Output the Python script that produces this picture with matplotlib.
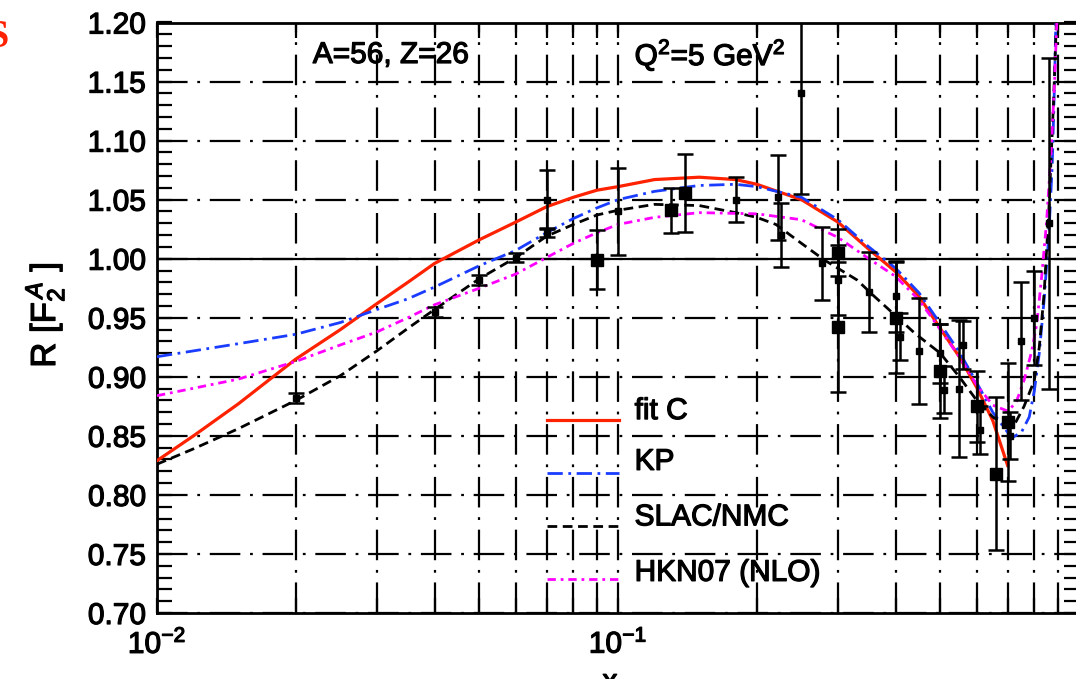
import numpy as np
import matplotlib
matplotlib.use("Agg")
import matplotlib.pyplot as plt
import matplotlib.patheffects as pe

plt.rcParams['font.family'] = ['Liberation Sans', 'DejaVu Sans']
plt.rcParams['mathtext.fontset'] = 'custom'
plt.rcParams['mathtext.rm'] = 'Liberation Sans'
plt.rcParams['mathtext.it'] = 'Liberation Sans:italic'
plt.rcParams['mathtext.bf'] = 'Liberation Sans:bold'
plt.rcParams['lines.scale_dashes'] = False

# ---- curves: nuclear ratio R[F2A] vs x for Fe (A=56) ----
fitc_x = [0.01, 0.012, 0.015, 0.02, 0.025, 0.03, 0.035, 0.04, 0.05, 0.06, 0.07,
          0.08, 0.09, 0.1, 0.12, 0.15, 0.18, 0.2, 0.25, 0.3, 0.35, 0.4, 0.45,
          0.5, 0.55, 0.6, 0.65, 0.7]
fitc_y = [0.829, 0.850, 0.877, 0.915, 0.940, 0.962, 0.980, 0.996, 1.016, 1.031,
          1.044, 1.052, 1.058, 1.061, 1.067, 1.069, 1.067, 1.063, 1.050, 1.031,
          1.008, 0.989, 0.968, 0.941, 0.917, 0.891, 0.863, 0.825]

kp_x = [0.01, 0.015, 0.02, 0.025, 0.03, 0.035, 0.04, 0.05, 0.06, 0.07, 0.08,
        0.09, 0.1, 0.12, 0.15, 0.18, 0.2, 0.25, 0.3, 0.35, 0.4, 0.45, 0.5,
        0.55, 0.6, 0.65, 0.7, 0.72, 0.75, 0.78, 0.8, 0.82, 0.84, 0.86, 0.875,
        0.885, 0.892]
kp_y = [0.917, 0.928, 0.936, 0.946, 0.957, 0.966, 0.976, 0.994, 1.007, 1.022,
        1.034, 1.043, 1.050, 1.057, 1.062, 1.063, 1.061, 1.052, 1.033, 1.010,
        0.992, 0.971, 0.945, 0.921, 0.895, 0.870, 0.853, 0.849, 0.853, 0.866,
        0.888, 0.920, 0.965, 1.020, 1.080, 1.150, 1.210]

slac_x = [0.01, 0.012, 0.015, 0.02, 0.025, 0.03, 0.035, 0.04, 0.05, 0.06, 0.07,
          0.08, 0.09, 0.1, 0.12, 0.15, 0.18, 0.2, 0.22, 0.25, 0.28, 0.33, 0.36,
          0.41, 0.44, 0.5, 0.55, 0.6, 0.65, 0.7, 0.73, 0.76, 0.8, 0.82, 0.84,
          0.86, 0.88, 0.895]
slac_y = [0.826, 0.839, 0.856, 0.880, 0.901, 0.922, 0.941, 0.957, 0.983, 1.001,
          1.019, 1.029, 1.037, 1.041, 1.046, 1.045, 1.039, 1.035, 1.029, 1.013,
          0.999, 0.982, 0.968, 0.948, 0.937, 0.920, 0.900, 0.880, 0.866, 0.858,
          0.862, 0.875, 0.897, 0.925, 0.970, 1.040, 1.130, 1.210]

hkn_x = [0.01, 0.015, 0.02, 0.025, 0.03, 0.035, 0.04, 0.05, 0.06, 0.07, 0.08,
         0.09, 0.1, 0.12, 0.15, 0.2, 0.25, 0.3, 0.35, 0.4, 0.45, 0.5, 0.55,
         0.6, 0.65, 0.7, 0.73, 0.76, 0.79, 0.81, 0.83, 0.85, 0.87, 0.885, 0.897]
hkn_y = [0.884, 0.898, 0.913, 0.927, 0.938, 0.950, 0.961, 0.975, 0.987, 1.001,
         1.013, 1.022, 1.029, 1.035, 1.039, 1.038, 1.033, 1.018, 1.000, 0.985,
         0.965, 0.940, 0.917, 0.893, 0.876, 0.871, 0.878, 0.897, 0.922, 0.945,
         0.985, 1.030, 1.090, 1.150, 1.210]

# ---- data with errors (two data sets) ----
big_x = [0.09, 0.13, 0.14, 0.30, 0.30, 0.40, 0.50, 0.60, 0.66, 0.70]
big_y = [0.999, 1.041, 1.056, 1.005, 0.942, 0.950, 0.905, 0.875, 0.818, 0.862]
big_e = [0.025, 0.019, 0.033, 0.020, 0.055, 0.047, 0.040, 0.030, 0.065, 0.050]

small_x = [0.02, 0.04, 0.05, 0.06, 0.07, 0.07, 0.1, 0.18, 0.222, 0.226, 0.25,
           0.277, 0.30, 0.35, 0.40, 0.41, 0.45, 0.50, 0.51, 0.55, 0.56, 0.61,
           0.71, 0.75, 0.80, 0.86]
small_y = [0.882, 0.955, 0.982, 1.001, 1.022, 1.050, 1.040, 1.050, 1.052, 1.020,
           1.140, 0.996, 0.982, 0.972, 0.968, 0.934, 0.922, 0.920, 0.889, 0.890,
           0.927, 0.855, 0.850, 0.930, 0.950, 1.030]
small_e = [0.004, 0.004, 0.004, 0.004, 0.004, 0.025, 0.037, 0.019, 0.036, 0.027,
           0.085, 0.031, 0.030, 0.034, 0.030, 0.020, 0.045, 0.025, 0.020, 0.058,
           0.020, 0.020, 0.020, 0.050, 0.040, 0.140]

yticks = [0.70, 0.75, 0.80, 0.85, 0.90, 0.95, 1.00, 1.05, 1.10, 1.15, 1.20]
xticks = [0.01, 0.1]
xtick_labels = ['$10^{-2}$', '$10^{-1}$']
legend_labels = ['fit C', 'KP', 'SLAC/NMC', 'HKN07 (NLO)']

FS = 21.5
heavy = [pe.withStroke(linewidth=0.9, foreground='black')]

fig = plt.figure(figsize=(10.76, 6.79), dpi=100)
ax = fig.add_axes([157 / 1076, 1 - 613 / 679, 922 / 1076, 590.5 / 679])
ax.set_xscale('log')
ax.set_xlim(0.01, 1.0)
ax.set_ylim(0.70, 1.20)

grid_ls = (0, (22, 7, 2, 7))
ax.set_xticks(xticks)
ax.set_xticklabels(xtick_labels)
ax.xaxis.set_minor_locator(matplotlib.ticker.LogLocator(base=10, subs=np.arange(2, 10)))
ax.xaxis.set_minor_formatter(matplotlib.ticker.NullFormatter())
ax.set_yticks(yticks)
ax.set_yticklabels([f'{v:.2f}' for v in yticks])
ax.yaxis.set_minor_locator(matplotlib.ticker.MultipleLocator(0.01))

ax.grid(True, axis='x', which='both', color='black', lw=1.6, ls=grid_ls)
ax.grid(True, axis='y', which='major', color='black', lw=1.6, ls=grid_ls)
ax.axhline(1.0, color='black', lw=1.6, zorder=1)

ax.tick_params(which='both', direction='in', length=11, width=1.6,
               right=True, top=True, labelsize=FS, colors='black')
ax.tick_params(axis='y', pad=8)
ax.tick_params(axis='x', pad=12)
for s in ax.spines.values():
    s.set_linewidth(2.0)
for lab in ax.get_xticklabels() + ax.get_yticklabels():
    lab.set_path_effects(heavy)

# curves
ax.plot(fitc_x, fitc_y, color='#ff2200', lw=2.3, zorder=4)
ax.plot(kp_x, kp_y, color='#1a3cff', lw=2.0, ls=(0, (11, 4, 2, 4)), zorder=4)
ax.plot(slac_x, slac_y, color='black', lw=2.0, ls=(0, (7, 4)), zorder=4)
ax.plot(hkn_x, hkn_y, color='#ff00ff', lw=2.0, ls=(0, (6, 3.5, 2, 3.5)), zorder=4)

# data points
ax.errorbar(small_x, small_y, yerr=small_e, fmt='s', ms=5, color='black',
            ecolor='black', elinewidth=1.8, capsize=6, capthick=1.8, zorder=5)
ax.errorbar(big_x, big_y, yerr=big_e, fmt='s', ms=9, color='black',
            ecolor='black', elinewidth=1.8, capsize=6, capthick=1.8, zorder=5)

# legend drawn without a frame
styles = [dict(color='#ff2200', lw=2.3),
          dict(color='#1a3cff', lw=2.0, ls=(0, (11, 4, 2, 4))),
          dict(color='black', lw=2.0, ls=(0, (7, 4))),
          dict(color='#ff00ff', lw=2.0, ls=(0, (6, 3.5, 2, 3.5)))]
line_y = [0.327, 0.237, 0.147, 0.058]
text_y = [0.342, 0.256, 0.162, 0.068]
for lab, st, ly, ty in zip(legend_labels, styles, line_y, text_y):
    ax.plot([0.423, 0.501], [ly, ly], transform=ax.transAxes, zorder=6, **st)
    ax.text(0.518, ty, lab, transform=ax.transAxes, fontsize=FS,
            va='center', ha='left', zorder=6, path_effects=heavy)

ax.text(0.169, 0.945, 'A=56, Z=26', transform=ax.transAxes, fontsize=FS,
        va='center', ha='left', path_effects=heavy)
ax.text(0.518, 0.945, r'Q$^{2}$=5 GeV$^{2}$', transform=ax.transAxes,
        fontsize=FS, va='center', ha='left', path_effects=heavy)

fig.text(45 / 1076, 1 - 315 / 679, r'R [F$_{2}^{\,A}$ ]', rotation=90,
         fontsize=25, ha='center', va='center', path_effects=heavy)
fig.text(610 / 1076, 1 - 690 / 679, 'x', fontsize=FS, ha='center',
         va='baseline', path_effects=heavy)
fig.text(9 / 1076, 1 - 47 / 679, 'S', color='#ff2200', fontsize=29,
         family='Liberation Serif', weight='bold', ha='right', va='baseline')

fig.savefig('out.png', dpi=100)
